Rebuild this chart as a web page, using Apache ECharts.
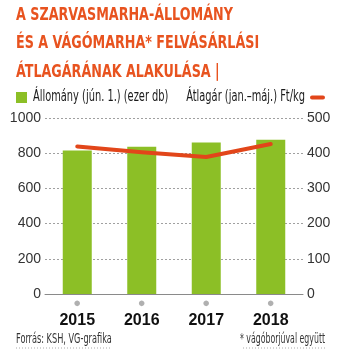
<!DOCTYPE html>
<html>
<head>
<meta charset="utf-8">
<script src="https://cdn.jsdelivr.net/npm/echarts@6/dist/echarts.min.js"></script>
<style>
  html, body { margin: 0; padding: 0; background: #fff; }
  #chart { width: 346px; height: 351px; }
</style>
</head>
<body>
<div id="chart"></div>
<script>
// Cattle stock and average purchase price of slaughter cattle, 2015–2018
const years = ['2015', '2016', '2017', '2018'];
const stock = [816, 837, 861, 876];       // Állomány (jún. 1.), ezer db
const price = [419, 403, 389, 426];       // Átlagár (jan.–máj.), Ft/kg
const leftTicks = [0, 1000, 200];         // min, max, interval
const rightTicks = [0, 500, 100];

const titleLines = ['A SZARVASMARHA-ÁLLOMÁNY', 'ÉS A VÁGÓMARHA* FELVÁSÁRLÁSI', 'ÁTLAGÁRÁNAK ALAKULÁSA |'];
const stockName = 'Állomány (jún. 1.) (ezer db)';
const priceName = 'Átlagár (jan.–máj.) Ft/kg';
const source = 'Forrás: KSH, VG-grafika';
const footnote = '* vágóborjúval együtt';

const FONT = '"DejaVu Sans Condensed", "Liberation Sans", sans-serif';
const AXFONT = '"Liberation Sans", "DejaVu Sans Condensed", sans-serif';
const GREEN = '#8cbf26';
const RED = '#e2461a';

// narrow-looking text: horizontally squeezed text element
function squeezed(text, x, y, font, fill, sx, align) {
  return {
    type: 'text',
    x: x, y: y,
    scaleX: sx, scaleY: 1,
    originX: 0, originY: 0,
    silent: true,
    style: {
      text: text, font: font, fill: fill,
      align: align || 'left', verticalAlign: 'middle',
      textAlign: align || 'left', textVerticalAlign: 'middle'
    }
  };
}

const graphics = [];
titleLines.forEach((t, i) => {
  graphics.push(squeezed(t, 16, 15.5 + i * 28.3, 'bold 18px ' + FONT, '#e8531f', 0.785));
});
graphics.push({ type: 'rect', shape: { x: 16, y: 92, width: 11, height: 11 }, style: { fill: GREEN } });
graphics.push(squeezed(stockName, 33, 97.5, '15px ' + FONT, '#1a1a1a', 0.73));
graphics.push(squeezed(priceName, 305, 97.5, '15px ' + FONT, '#1a1a1a', 0.73, 'right'));
graphics.push({ type: 'rect', shape: { x: 310, y: 95.5, width: 15, height: 4, r: 2 }, style: { fill: RED } });
graphics.push(squeezed(source, 16, 339, '14px ' + FONT, '#333', 0.65));
graphics.push({ type: 'line', shape: { x1: 16, y1: 348, x2: 110, y2: 348 }, style: { stroke: '#aaa', lineWidth: 1, lineDash: [1, 2] } });
graphics.push(squeezed(footnote, 325, 339, '14px ' + FONT, '#333', 0.62, 'right'));
graphics.push({ type: 'line', shape: { x1: 243, y1: 348, x2: 325, y2: 348 }, style: { stroke: '#aaa', lineWidth: 1, lineDash: [1, 2] } });

const chart = echarts.init(document.getElementById('chart'), null, { renderer: 'canvas' });

chart.setOption({
  backgroundColor: '#ffffff',
  animation: false,
  legend: { show: false },
  grid: { left: 45, right: 43, top: 118, bottom: 57 },
  xAxis: {
    type: 'category',
    data: years,
    axisLine: { lineStyle: { color: '#8a8a8a', width: 1 } },
    axisTick: { show: false },
    axisLabel: {
      margin: 2,
      formatter: v => '{dot|●}\n{yr|' + v + '}',
      rich: {
        dot: { color: '#b0b0b0', fontSize: 13, lineHeight: 14, align: 'center' },
        yr: { fontFamily: AXFONT, fontWeight: 'bold', fontSize: 16, lineHeight: 22, color: '#111', align: 'center' }
      }
    }
  },
  yAxis: [
    {
      type: 'value',
      min: leftTicks[0], max: leftTicks[1], interval: leftTicks[2],
      axisLine: { show: false },
      axisTick: { show: false },
      axisLabel: { margin: 4, fontFamily: AXFONT, fontSize: 14, color: '#333', formatter: v => String(v) },
      splitLine: { lineStyle: { color: '#a0a0a0', type: [2, 2], width: 1 } }
    },
    {
      type: 'value',
      min: rightTicks[0], max: rightTicks[1], interval: rightTicks[2],
      axisLine: { show: false },
      axisTick: { show: false },
      axisLabel: { margin: 4, fontFamily: AXFONT, fontSize: 14, color: '#333', formatter: v => String(v) },
      splitLine: { show: false }
    }
  ],
  series: [
    {
      name: stockName,
      type: 'bar',
      data: stock,
      yAxisIndex: 0,
      barWidth: 29,
      itemStyle: { color: GREEN }
    },
    {
      name: priceName,
      type: 'line',
      data: price,
      yAxisIndex: 1,
      symbol: 'none',
      itemStyle: { color: RED },
      lineStyle: { color: RED, width: 4, cap: 'round', join: 'round' }
    }
  ],
  graphic: graphics
});
</script>
</body>
</html>
